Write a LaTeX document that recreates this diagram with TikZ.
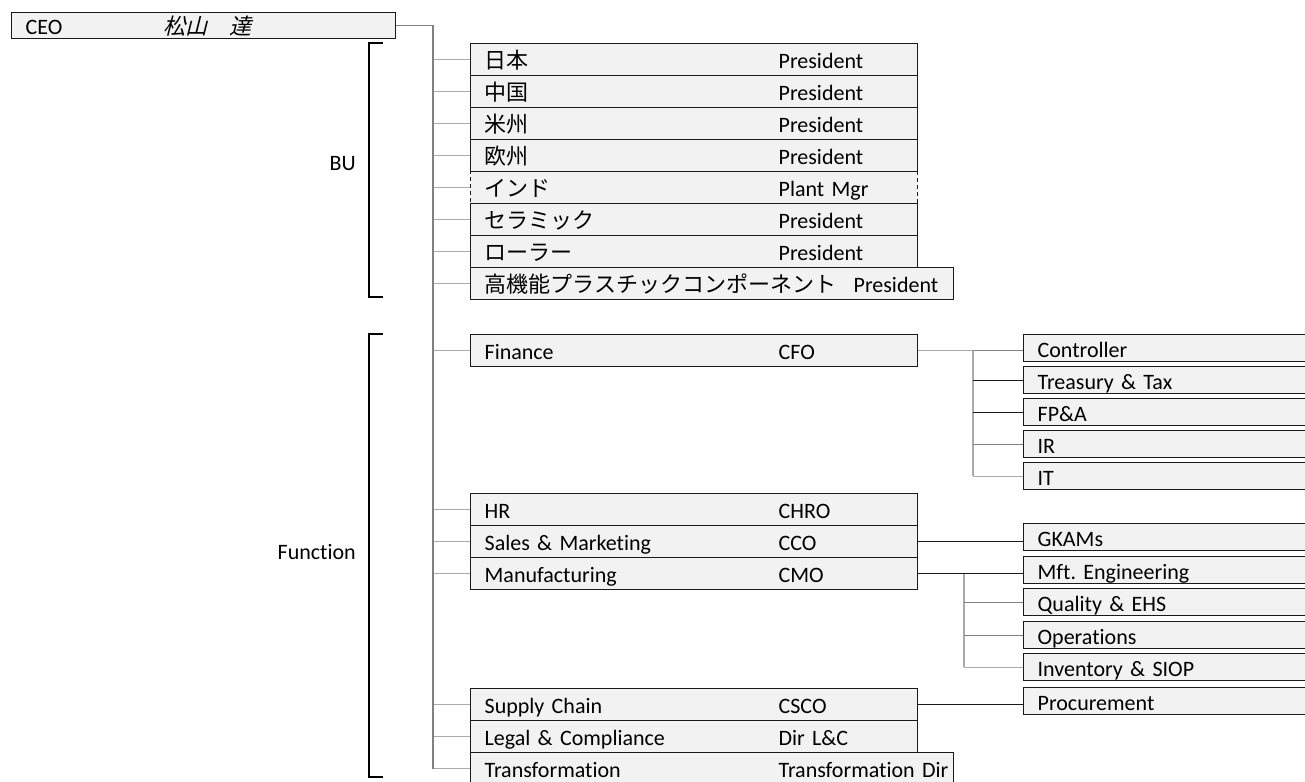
\documentclass[tikz,border=0pt]{standalone}
\usepackage{fontspec}
\setmainfont[Ligatures=NoCommon]{Carlito}
\newfontfamily\jp{Noto Sans CJK JP}
\newfontfamily\jpit[FakeSlant=0.25]{Noto Sans CJK JP}
\usepackage{tikz}
\definecolor{boxfill}{RGB}{242,242,242}
\definecolor{trunkc}{RGB}{128,128,128}
\definecolor{branchc}{RGB}{170,170,170}
\definecolor{inkc}{RGB}{26,26,26}
\newcommand\twocol[3][294pt]{\makebox[#1][l]{#2}\mbox{#3}}
\frenchspacing

\begin{document}
\begin{tikzpicture}[x=1pt,y=-1pt,font=\fontsize{22}{26}\selectfont,
  box/.style={draw=inkc,fill=boxfill,line width=1.3pt,anchor=north west,
    inner xsep=14pt,inner ysep=0pt,text height=18pt,text depth=0pt,align=left},
  unitbox/.style={box,minimum height=32pt,text width=419pt},
  widebox/.style={box,minimum height=32pt,text width=455pt},
  subbox/.style={box,minimum height=27pt,text width=290pt},
  trunk/.style={draw=trunkc,line width=1.3pt},
  twig/.style={draw=branchc,line width=1.3pt},
  wire/.style={draw=inkc,line width=1.3pt},
  bracket/.style={draw=black,line width=2pt},
  grouptag/.style={anchor=east,inner sep=0pt}]
  \clip (0,0) rectangle (1305,781);
  \fill[white] (0,0) rectangle (1305,781);
  % ---- CEO ----
  \node[box,minimum height=26pt,text width=356pt] (ceo) at (11,12)
      {\twocol[138pt]{CEO}{\jpit 松山　達}};
  % ---- business units ----
  \node[unitbox] (jp)  at (470,43)  {\twocol{\jp 日本}{President}};
  \node[unitbox] (cn)  at (470,75)  {\twocol{\jp 中国}{President}};
  \node[unitbox] (am)  at (470,107) {\twocol{\jp 米州}{President}};
  \node[unitbox] (eu)  at (470,139) {\twocol{\jp 欧州}{President}};
  \node[unitbox,dashed,dash pattern=on 4pt off 3pt] (ind) at (470,171)
      {\twocol{\jp インド}{Plant Mgr}};
  \node[unitbox] (cer) at (470,203) {\twocol{\jp セラミック}{President}};
  \node[unitbox] (rol) at (470,235) {\twocol{\jp ローラー}{President}};
  \node[widebox] (hpc) at (470,267)
      {\twocol[369pt]{\jp 高機能プラスチックコンポーネント}{President}};
  % ---- functions ----
  \node[unitbox] (fin) at (470,334) {\twocol{Finance}{CFO}};
  \node[unitbox] (hr)  at (470,493) {\twocol{HR}{CHRO}};
  \node[unitbox] (sm)  at (470,525) {\twocol{Sales \& Marketing}{CCO}};
  \node[unitbox] (mfg) at (470,557) {\twocol{Manufacturing}{CMO}};
  \node[unitbox] (sc)  at (470,688) {\twocol{Supply Chain}{CSCO}};
  \node[unitbox] (lc)  at (470,720) {\twocol{Legal \& Compliance}{Dir L\&C}};
  \node[widebox] (tr)  at (470,752) {\twocol{Transformation}{Transformation Dir}};
  % ---- finance teams ----
  \node[subbox] (ctrl) at (1023,334) {Controller};
  \node[subbox] (tt)   at (1023,366) {Treasury \& Tax};
  \node[subbox] (fpa)  at (1023,398) {FP\&A};
  \node[subbox] (ir)   at (1023,430) {IR};
  \node[subbox] (it)   at (1023,462) {IT};
  % ---- commercial / operations teams ----
  \node[subbox] (gkam) at (1023,523) {GKAMs};
  \node[subbox] (mfe)  at (1023,556) {Mft. Engineering};
  \node[subbox] (qe)   at (1023,588) {Quality \& EHS};
  \node[subbox] (ops)  at (1023,621) {Operations};
  \node[subbox] (inv)  at (1023,653) {Inventory \& SIOP};
  \node[subbox] (proc) at (1023,687) {Procurement};
  % ---- CEO spine ----
  \coordinate (spine) at (433,0);
  \foreach \u in {jp,cn,am,eu,ind,cer,rol,hpc,fin,hr,sm,mfg,sc,lc,tr}
      \draw[twig] (\u.west -| spine) -- (\u.west);
  \draw[trunk] (ceo.east) -| (tr.west -| spine);
  % ---- finance bus ----
  \coordinate (finbus) at (973,0);
  \draw[twig] (fin.east) -- (fin.east -| finbus) -- (it.west -| finbus);
  \draw[trunk] (fin.east -| finbus) -- (fin.east -| ctrl.west);
  \foreach \s in {tt,fpa} \draw[wire] (\s.west -| finbus) -- (\s.west);
  \draw[trunk] (ir.west -| finbus) -- (ir.west);
  \draw[twig] (it.west -| finbus) -- (it.west);
  % ---- sales, manufacturing, supply ----
  \coordinate (mfgbus) at (964,0);
  \draw[wire] (sm.east) -- (sm.east -| gkam.west);
  \draw[twig] (mfg.east -| mfgbus) -- (inv.west -| mfgbus);
  \draw[wire] (mfg.east) -- (mfg.east -| mfe.west);
  \foreach \s in {qe,ops} \draw[trunk] (\s.west -| mfgbus) -- (\s.west);
  \draw[twig] (inv.west -| mfgbus) -- (inv.west);
  \draw[wire] (sc.east) -- (sc.east -| proc.west);
  % ---- group brackets ----
  \draw[bracket] (383,43) -- (369,43) -- (369,297) -- (383,297);
  \node[grouptag] (bu) at (356,164) {BU};
  \draw[bracket] (383,334) -- (369,334) -- (369,777) -- (383,777);
  \node[grouptag] (func) at (356,552) {Function};
\end{tikzpicture}
\end{document}
